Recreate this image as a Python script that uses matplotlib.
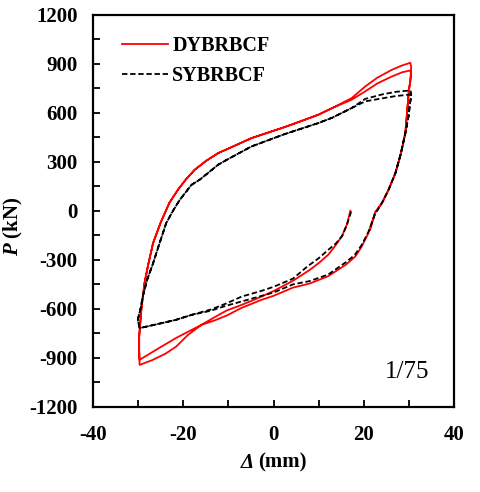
import numpy as np
import matplotlib
matplotlib.use('Agg')
import matplotlib.pyplot as plt
from matplotlib.ticker import MultipleLocator

# DYBRBCF (red), one continuous path
# start at residual point, go down to negative peak
dy_x1 = [17.0, 16.3, 15.1, 13.5, 12.1, 10.0, 8.0, 4.3, 0.0, -3.5, -7.1, -10.4, -13.0, -16.0, -19.0, -21.6, -24.0, -27.0, -29.7]
dy_y1 = [0, -80, -157, -220, -269, -320, -362, -428, -491, -535, -576, -610, -650, -698, -760, -831, -875, -915, -943]
# reload up to first positive peak
dy_x2 = [-29.8, -29.8, -29.3, -28.6, -27.8, -26.7, -25.0, -23.1, -21.2, -19.5, -17.5, -15.0, -12.3, -8.5, -4.9, 0.0, 2.5, 6.0, 9.9, 13.0, 17.3, 20.3, 23.0, 26.2, 28.5, 30.3]
dy_y2 = [-850, -772, -600, -441, -330, -196, -70, 49, 129, 190, 251, 305, 353, 400, 445, 490, 513, 548, 588, 629, 690, 761, 815, 863, 890, 906]
# unload down to second negative peak
dy_x3 = [30.5, 30.3, 30.0, 29.2, 28.2, 27.0, 25.5, 24.0, 22.5, 21.0, 19.5, 18.1, 16.0, 12.1, 8.0, 4.3, 0.0, -2.7, -7.1, -10.4, -13.0, -16.0, -21.6, -26.0, -29.7]
dy_y3 = [880, 800, 741, 476, 350, 231, 130, 47, -10, -137, -220, -280, -330, -400, -445, -470, -520, -545, -594, -641, -670, -698, -778, -850, -912]
# reload up to second positive peak
dy_x4 = [-29.8, -29.8, -29.3, -28.6, -27.8, -26.7, -25.0, -23.1, -21.2, -19.5, -17.5, -15.0, -12.3, -8.5, -4.9, 0.0, 2.5, 6.0, 9.9, 13.0, 17.3, 20.3, 23.0, 26.2, 28.5, 30.3]
dy_y4 = [-860, -772, -600, -441, -330, -196, -70, 49, 129, 190, 251, 305, 353, 400, 445, 490, 513, 548, 588, 629, 680, 731, 780, 822, 848, 859]
# last unloading
dy_x5 = [30.5, 30.3, 30.0, 29.2, 28.2, 27.0, 25.5, 24.0, 22.5, 21.4]
dy_y5 = [840, 790, 741, 476, 350, 231, 130, 47, -10, -116]

# SYBRBCF (black dashed)
sy_x1 = [17.2, 16.3, 15.3, 13.8, 12.1, 10.0, 7.5, 4.3, 0.0, -2.7, -7.1, -10.4, -14.0, -18.2, -21.6, -26.0, -29.7]
sy_y1 = [-4, -80, -150, -200, -239, -290, -340, -415, -465, -490, -525, -566, -605, -637, -667, -695, -718]
sy_x2 = [-30.1, -29.5, -29.0, -28.0, -26.7, -25.3, -23.8, -22.3, -20.8, -18.2, -16.4, -12.3, -10.4, -4.9, 2.5, 9.9, 13.0, 17.3, 20.3, 24.0, 27.0, 30.3]
sy_y2 = [-667, -600, -525, -420, -320, -200, -75, 0, 67, 159, 190, 282, 312, 394, 470, 537, 570, 629, 685, 712, 728, 737]
sy_x3 = [30.5, 30.2, 29.9, 29.2, 28.2, 27.0, 25.5, 24.0, 22.5, 21.0, 19.5, 18.0, 16.0, 12.1, 8.0, 4.3, 0.0, -7.1, -10.4, -14.0, -18.2, -21.6, -26.0, -29.7]
sy_y3 = [720, 650, 577, 476, 350, 231, 130, 47, -20, -130, -210, -270, -315, -390, -430, -450, -500, -555, -580, -612, -637, -667, -695, -718]
sy_x4 = [-30.1, -29.5, -29.0, -28.0, -26.7, -25.3, -23.8, -22.3, -20.8, -18.2, -16.4, -12.3, -10.4, -4.9, 2.5, 9.9, 13.0, 17.3, 20.3, 24.0, 27.0, 30.3]
sy_y4 = [-667, -600, -525, -420, -320, -200, -75, 0, 67, 159, 190, 282, 312, 394, 470, 537, 570, 629, 670, 688, 702, 712]
sy_x5 = [30.5, 30.2, 29.9, 29.2, 28.2, 27.0]
sy_y5 = [700, 650, 577, 476, 350, 231]

dy_x = dy_x1 + dy_x2 + dy_x3 + dy_x4 + dy_x5
dy_y = dy_y1 + dy_y2 + dy_y3 + dy_y4 + dy_y5
sy_x = sy_x1 + sy_x2 + sy_x3 + sy_x4 + sy_x5
sy_y = sy_y1 + sy_y2 + sy_y3 + sy_y4 + sy_y5

plt.rcParams.update({
    'font.family': 'Liberation Serif',
    'font.weight': 'bold',
    'axes.unicode_minus': False,
    'mathtext.fontset': 'custom',
    'mathtext.it': 'Liberation Serif:italic:bold',
    'mathtext.rm': 'Liberation Serif:bold',
})

fig = plt.figure(figsize=(4.8, 4.92), dpi=100)
ax = fig.add_axes([0.194, 0.173, 0.752, 0.797])

ax.plot(dy_x, dy_y, color='red', lw=1.3, label='DYBRBCF')
ax.plot(sy_x, sy_y, color='black', lw=1.3, ls=(0, (3, 1.5)), label='SYBRBCF')

ax.set_xlim(-40, 40)
ax.set_ylim(-1200, 1200)
ax.xaxis.set_major_locator(MultipleLocator(20))
ax.xaxis.set_minor_locator(MultipleLocator(10))
ax.yaxis.set_major_locator(MultipleLocator(300))
ax.yaxis.set_minor_locator(MultipleLocator(150))
ax.tick_params(which='both', direction='in', length=5, width=1.3, labelsize=15)
ax.tick_params(axis='x', pad=13)
ax.tick_params(axis='y', pad=11)
for s in ax.spines.values():
    s.set_linewidth(1.6)

# x label: italic delta + bold "(mm)"
ax.text(0.445, -0.143, 'Δ', transform=ax.transAxes, fontsize=15,
        fontweight='bold', fontstyle='italic', ha='right', va='center')
ax.text(0.457, -0.143, '(mm)', transform=ax.transAxes, fontsize=15,
        fontweight='bold', ha='left', va='center')
ax.set_ylabel(r'$\mathit{P}$ (kN)', fontsize=15, fontweight='bold')
ax.yaxis.set_label_coords(-0.19, 0.462)

ax.text(0.87, 0.09, '1/75', transform=ax.transAxes, fontsize=18,
        fontweight='normal', ha='center', va='center')

ax.legend(loc='upper left', bbox_to_anchor=(0.08, 0.945), frameon=False,
          fontsize=14.5, handlelength=2.3, handletextpad=0.2, labelspacing=0.5,
          borderpad=0, borderaxespad=0)

fig.savefig('out.png', dpi=100)
